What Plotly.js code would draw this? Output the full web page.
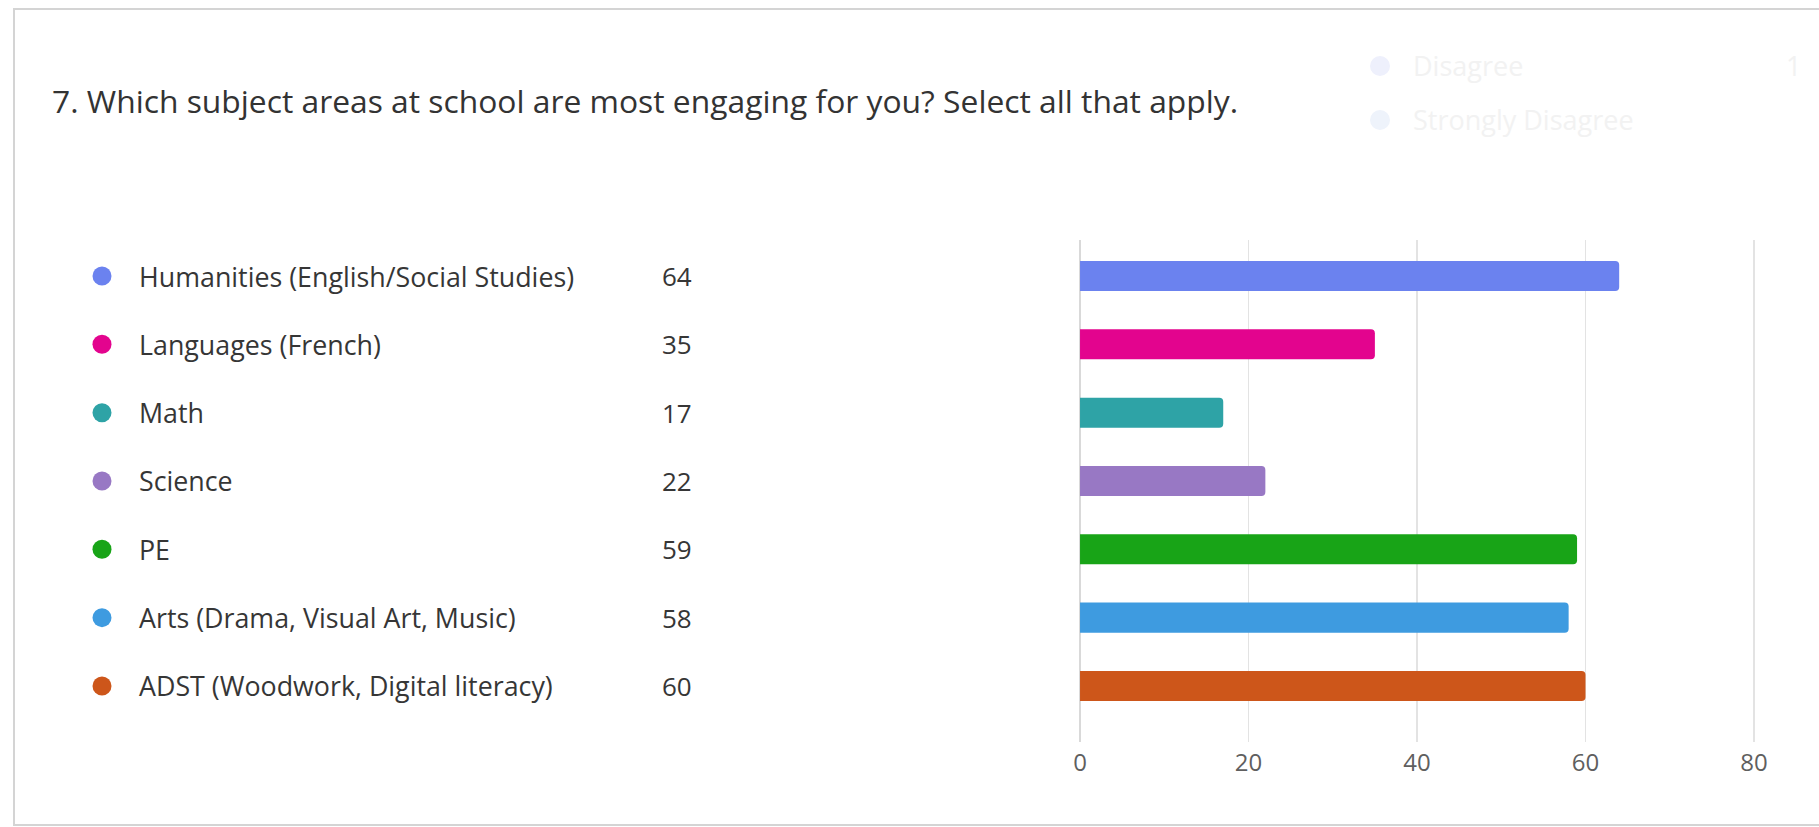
<!DOCTYPE html>
<html>
<head>
<meta charset="utf-8">
<script src="https://cdn.plot.ly/plotly-3.0.1.min.js"></script>
<style>
  html, body { margin: 0; padding: 0; background: #ffffff; }
  #chart { width: 1819px; height: 827px; }
</style>
</head>
<body>
<div id="chart"></div>
<script>
// ---- data ----
const titleText = "7. Which subject areas at school are most engaging for you? Select all that apply.";
const categories = [
  "Humanities (English/Social Studies)",
  "Languages (French)",
  "Math",
  "Science",
  "PE",
  "Arts (Drama, Visual Art, Music)",
  "ADST (Woodwork, Digital literacy)"
];
const counts = [64, 35, 17, 22, 59, 58, 60];
const colors = ["#6b82ef", "#e3048e", "#2ea3a6", "#9878c4", "#18a417", "#3e9be0", "#cd561a"];
const xTickValues = [0, 20, 40, 60, 80];
const xTickLabels = ["0", "20", "40", "60", "80"];
// faded (background) legend visible at top right of the card
const fadedLabels = ["Disagree", "Strongly Disagree"];
const fadedCounts = ["1", ""];
const fadedColors = ["#eef0fc", "#eef3fb"];

// ---- layout constants (pixels) ----
const W = 1819, H = 827;
const FONT = "'Open Sans', 'Noto Sans', sans-serif";
const px = v => v / W;
const py = v => 1 - v / H;

const dotX = 102, labelX = 137, valueX = 694;
const plotLeft = 1077.5, plotRight = 1756.5, plotTop = 240, plotBottom = 742;

const traces = [
  {
    type: "bar",
    orientation: "h",
    y: categories,
    x: counts,
    width: 0.44,
    marker: { color: colors, cornerradius: 4, line: { width: 0 } },
    xaxis: "x",
    yaxis: "y",
    hoverinfo: "x+y",
    showlegend: false
  },
  {
    type: "scatter",
    mode: "markers",
    y: categories,
    x: categories.map(() => 0),
    marker: { color: colors, size: 19, line: { width: 0 } },
    xaxis: "x2",
    yaxis: "y",
    hoverinfo: "skip",
    showlegend: false
  }
];

const annotations = [];
annotations.push({
  xref: "paper", yref: "paper", x: px(50), y: py(100),
  xanchor: "left", yanchor: "middle", showarrow: false,
  text: titleText, font: { family: FONT, size: 31.8, color: "#333333" }
});
categories.forEach((c, i) => {
  annotations.push({
    xref: "paper", yref: "y", x: px(labelX), y: c,
    xanchor: "left", yanchor: "middle", showarrow: false,
    text: c, font: { family: FONT, size: 26.8, color: "#363636" }
  });
  annotations.push({
    xref: "paper", yref: "y", x: px(valueX), y: c,
    xanchor: "right", yanchor: "middle", showarrow: false,
    text: String(counts[i]), font: { family: FONT, size: 26, color: "#363636" }
  });
});
fadedLabels.forEach((l, i) => {
  const yy = 66 + i * 54;
  annotations.push({
    xref: "paper", yref: "paper", x: px(1411), y: py(yy),
    xanchor: "left", yanchor: "middle", showarrow: false,
    text: l, font: { family: FONT, size: 27, color: "#f2f2f2" }
  });
  if (fadedCounts[i]) {
    annotations.push({
      xref: "paper", yref: "paper", x: px(1803), y: py(yy),
      xanchor: "right", yanchor: "middle", showarrow: false,
      text: fadedCounts[i], font: { family: FONT, size: 27, color: "#f2f2f2" }
    });
  }
});

const shapes = [
  {
    type: "rect", xref: "paper", yref: "paper",
    x0: px(14), x1: px(W + 20), y0: py(825), y1: py(9),
    line: { color: "#d4d4d4", width: 2 }, fillcolor: "rgba(0,0,0,0)", layer: "below"
  }
];
fadedColors.forEach((c, i) => {
  const yy = 66 + i * 54;
  shapes.push({
    type: "circle", xref: "paper", yref: "paper",
    x0: px(1380 - 10), x1: px(1380 + 10), y0: py(yy + 10), y1: py(yy - 10),
    line: { width: 0 }, fillcolor: c
  });
});

const layout = {
  width: W, height: H,
  margin: { l: 0, r: 0, t: 0, b: 0, pad: 0 },
  paper_bgcolor: "#ffffff",
  plot_bgcolor: "rgba(0,0,0,0)",
  showlegend: false,
  bargap: 0.56,
  xaxis: {
    domain: [px(plotLeft), px(plotRight)],
    range: [-0.3, 80.3],
    tickmode: "array", tickvals: xTickValues, ticktext: xTickLabels,
    showgrid: true, gridcolor: "#e3e3e3", gridwidth: 1.2,
    zeroline: true, zerolinecolor: "#d9d9d9", zerolinewidth: 1.2,
    showline: false, ticks: "", ticklabelstandoff: 4,
    tickfont: { family: FONT, size: 24, color: "#5f5f5f" },
    fixedrange: true
  },
  xaxis2: {
    domain: [px(dotX - 20), px(dotX + 20)],
    range: [-1, 1], visible: false, fixedrange: true
  },
  yaxis: {
    domain: [py(plotBottom), py(plotTop)],
    type: "category",
    categoryorder: "array", categoryarray: categories,
    range: [6.82, -0.527],
    showticklabels: false, showgrid: false, zeroline: false, showline: false, ticks: "",
    fixedrange: true
  },
  annotations: annotations,
  shapes: shapes,
  font: { family: FONT }
};

Plotly.newPlot("chart", traces, layout, { displayModeBar: false, staticPlot: true });
</script>
</body>
</html>
